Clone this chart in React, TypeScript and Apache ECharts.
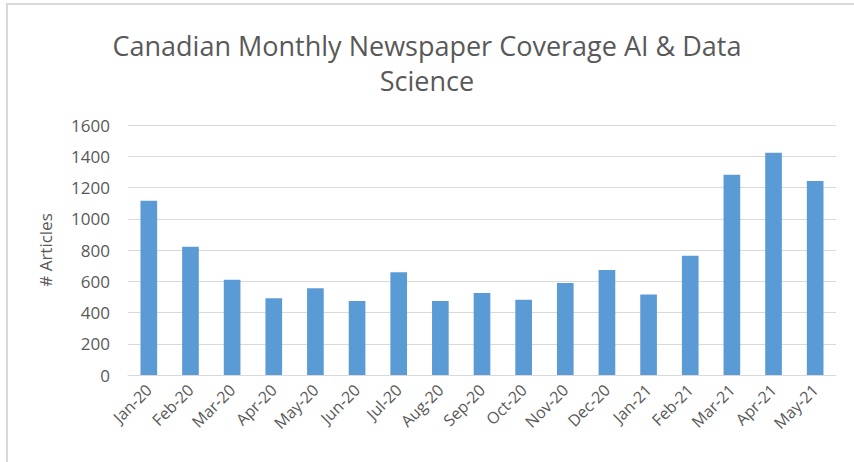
import React, { useEffect, useRef } from "react";
import * as echarts from "echarts";

// Monthly article counts
const months = [
  "Jan-20", "Feb-20", "Mar-20", "Apr-20", "May-20", "Jun-20", "Jul-20", "Aug-20", "Sep-20",
  "Oct-20", "Nov-20", "Dec-20", "Jan-21", "Feb-21", "Mar-21", "Apr-21", "May-21",
];
const articles = [1115, 821, 610, 491, 555, 474, 657, 474, 525, 482, 589, 672, 516, 764, 1282, 1423, 1242];

const titleLines = ["Canadian Monthly Newspaper Coverage AI & Data", "Science"];
const yAxisName = "# Articles";

const FONT = "'Open Sans', 'Noto Sans', sans-serif";
const TEXT = "#595959";

export default function App() {
  const ref = useRef<HTMLDivElement>(null);

  useEffect(() => {
    if (!ref.current) return;
    const chart = echarts.init(ref.current, null, { renderer: "svg" });
    chart.setOption({
      animation: false,
      backgroundColor: "#ffffff",
      textStyle: { fontFamily: FONT },
      title: {
        text: titleLines.join("\n"),
        left: "center",
        top: 23,
        textStyle: {
          fontFamily: FONT,
          fontSize: 27,
          fontWeight: "normal",
          color: TEXT,
          lineHeight: 35,
        },
      },
      graphic: [
        {
          type: "rect",
          shape: { x: 7, y: 4, width: 860, height: 470 },
          style: { fill: "none", stroke: "#d9d9d9", lineWidth: 2 },
          silent: true,
          z: -1,
        },
      ],
      grid: { left: 128, right: 18, top: 125, bottom: 87, containLabel: false },
      xAxis: {
        type: "category",
        data: months,
        axisLine: { lineStyle: { color: "#d9d9d9", width: 1 } },
        axisTick: { show: false },
        axisLabel: {
          rotate: 45,
          margin: 12,
          fontSize: 16,
          fontFamily: FONT,
          color: TEXT,
          interval: 0,
        },
      },
      yAxis: {
        type: "value",
        min: 0,
        max: 1600,
        interval: 200,
        name: yAxisName,
        nameLocation: "middle",
        nameGap: 74,
        nameRotate: 90,
        nameTextStyle: { fontFamily: FONT, fontSize: 17, color: TEXT },
        axisLine: { show: false },
        axisTick: { show: false },
        axisLabel: {
          fontSize: 17,
          fontFamily: FONT,
          color: TEXT,
          margin: 18,
          formatter: (v: number) => String(v),
        },
        splitLine: { lineStyle: { color: "#d9d9d9", width: 1 } },
      },
      series: [
        {
          type: "bar",
          data: articles,
          barWidth: "40%",
          itemStyle: { color: "#5b9bd5" },
        },
      ],
    });
    return () => chart.dispose();
  }, []);

  return (
    <div
      ref={ref}
      style={{ position: "fixed", left: 0, top: 0, width: 854, height: 462 }}
    />
  );
}
